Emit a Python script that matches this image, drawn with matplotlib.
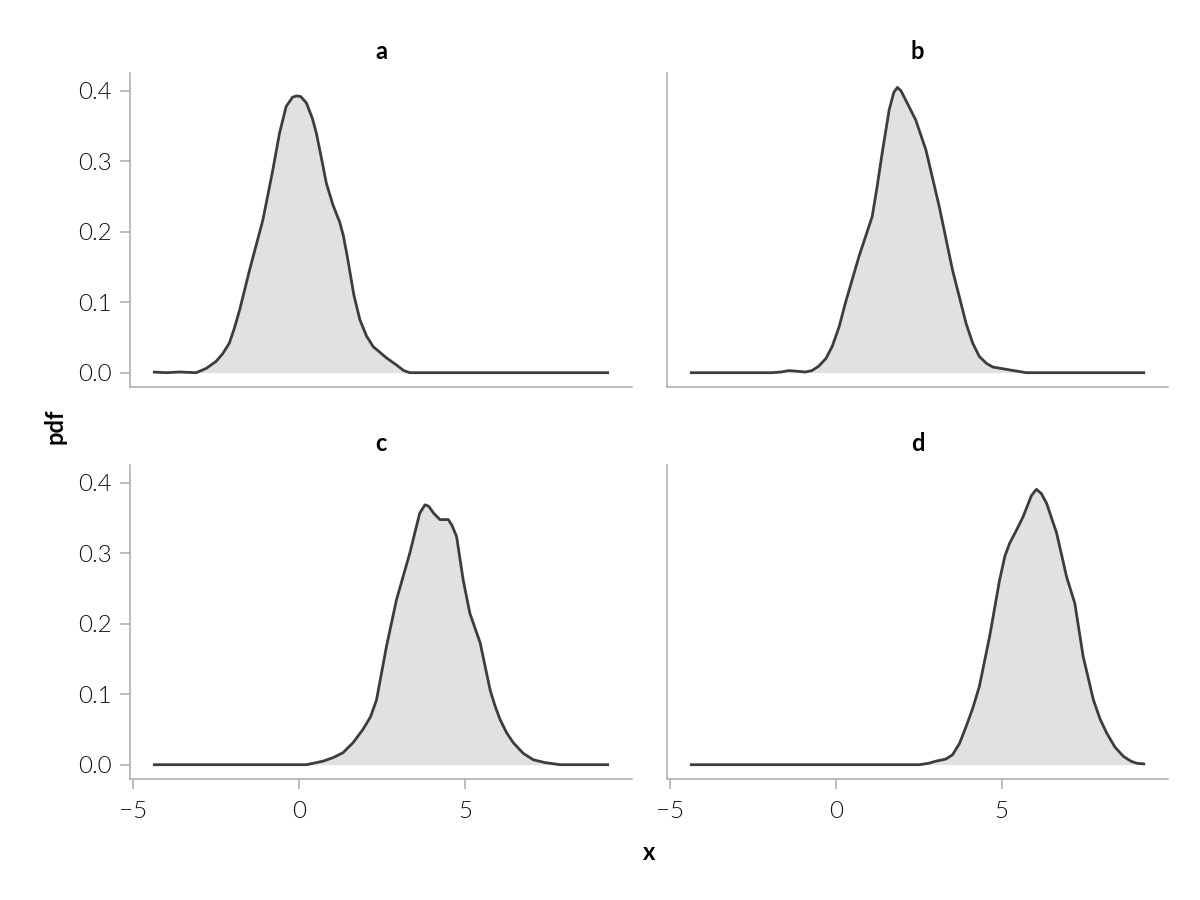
import matplotlib
matplotlib.use("Agg")
import matplotlib.pyplot as plt

# density curves, one (x, pdf) pair of lists per panel
panels = ["a", "b", "c", "d"]

x_a = [-4.40, -4.0, -3.6, -3.1, -2.8, -2.5, -2.3, -2.1, -1.95, -1.79, -1.49, -1.09, -0.79, -0.59, -0.39,
       -0.20, -0.08, 0.05, 0.22, 0.40, 0.52, 0.70, 0.82, 1.02, 1.22, 1.33, 1.45, 1.65, 1.83, 2.03, 2.23,
       2.63, 2.93, 3.15, 3.33, 4.0, 6.0, 9.33]
y_a = [0.001, 0.0, 0.001, 0.0, 0.006, 0.016, 0.027, 0.042, 0.063, 0.089, 0.146, 0.217, 0.288, 0.340, 0.378,
       0.391, 0.393, 0.392, 0.383, 0.361, 0.340, 0.298, 0.269, 0.238, 0.214, 0.195, 0.165, 0.110, 0.075, 0.052, 0.037,
       0.021, 0.011, 0.003, 0.0, 0.0, 0.0, 0.0]

x_b = [-4.40, -3.0, -1.93, -1.65, -1.42, -1.15, -0.92, -0.72, -0.52, -0.30, -0.11, 0.10, 0.29, 0.70,
       1.10, 1.25, 1.40, 1.61, 1.75, 1.86, 1.97, 2.11, 2.41, 2.72, 3.12, 3.52, 3.93, 4.13, 4.33, 4.55,
       4.74, 5.24, 5.75, 7.0, 9.33]
y_b = [0.0, 0.0, 0.0, 0.001, 0.003, 0.002, 0.001, 0.003, 0.009, 0.020, 0.037, 0.065, 0.099, 0.165,
       0.222, 0.265, 0.312, 0.373, 0.398, 0.405, 0.400, 0.387, 0.359, 0.316, 0.236, 0.146, 0.070, 0.042, 0.023, 0.013,
       0.008, 0.004, 0.0, 0.0, 0.0]

x_c = [-4.40, -2.0, 0.22, 0.72, 1.02, 1.32, 1.62, 1.92, 2.15, 2.33, 2.63, 2.93, 3.33, 3.63, 3.79, 3.90,
       4.05, 4.24, 4.49, 4.60, 4.74, 4.94, 5.14, 5.45, 5.75, 5.90, 6.05, 6.25, 6.45, 6.75, 7.05, 7.40,
       7.86, 9.33]
y_c = [0.0, 0.0, 0.0, 0.005, 0.010, 0.017, 0.031, 0.050, 0.068, 0.092, 0.168, 0.234, 0.300, 0.357, 0.369, 0.367,
       0.357, 0.348, 0.348, 0.340, 0.324, 0.262, 0.215, 0.173, 0.106, 0.083, 0.064, 0.045, 0.031, 0.016, 0.007, 0.003,
       0.0, 0.0]

x_d = [-4.40, -1.0, 2.52, 2.80, 3.02, 3.32, 3.52, 3.73, 3.93, 4.13, 4.33, 4.64, 4.94, 5.10, 5.24, 5.45,
       5.65, 5.90, 6.05, 6.20, 6.36, 6.66, 6.96, 7.21, 7.46, 7.77, 7.97, 8.17, 8.42, 8.67, 8.90, 9.08, 9.33]
y_d = [0.0, 0.0, 0.0, 0.002, 0.005, 0.008, 0.014, 0.030, 0.054, 0.080, 0.111, 0.182, 0.262, 0.296, 0.314, 0.333,
       0.352, 0.382, 0.391, 0.385, 0.371, 0.329, 0.267, 0.229, 0.154, 0.092, 0.065, 0.045, 0.025, 0.012, 0.005, 0.002, 0.001]

xs = [x_a, x_b, x_c, x_d]
ys = [y_a, y_b, y_c, y_d]

plt.rcParams["font.family"] = ["Lato", "DejaVu Sans"]
spine_col = "#ababab"

fig = plt.figure(figsize=(12, 9), dpi=100)
boxes = [
    [130 / 1200, 1 - 387 / 900, 502 / 1200, 314 / 900],
    [667 / 1200, 1 - 387 / 900, 501 / 1200, 314 / 900],
    [130 / 1200, 1 - 779 / 900, 502 / 1200, 314 / 900],
    [667 / 1200, 1 - 779 / 900, 501 / 1200, 314 / 900],
]

for i, name in enumerate(panels):
    ax = fig.add_axes(boxes[i])
    ax.fill_between(xs[i], ys[i], 0, color="#e1e1e1", lw=0)
    ax.plot(xs[i], ys[i], color="#3d3d3d", lw=2.0, solid_joinstyle="round", solid_capstyle="butt")
    ax.set_xlim(-5.09, 10.02)
    ax.set_ylim(-0.0203, 0.4255)
    ax.set_xticks([-5, 0, 5])
    ax.set_xticklabels(["\u22125", "0", "5"])
    ax.set_yticks([0.0, 0.1, 0.2, 0.3, 0.4])
    for s in ["top", "right"]:
        ax.spines[s].set_visible(False)
    for s in ["left", "bottom"]:
        ax.spines[s].set_color(spine_col)
        ax.spines[s].set_linewidth(1.1)
    ax.tick_params(direction="out", length=7, width=1.1, color=spine_col,
                   labelsize=17.5, labelcolor="#111111", pad=6)
    ax.tick_params(axis="x", pad=9)
    for lab in ax.get_xticklabels() + ax.get_yticklabels():
        lab.set_fontweight(300)
    if i in (1, 3):
        ax.tick_params(axis="y", left=False, labelleft=False)
    if i in (0, 1):
        ax.tick_params(axis="x", bottom=False, labelbottom=False)
    ax.set_title(name, fontsize=17, fontweight="bold", pad=10)

fig.text(649 / 1200, 1 - 853 / 900, "x", fontsize=17, fontweight="bold", ha="center", va="center")
fig.text(55 / 1200, 1 - 426 / 900, "pdf", fontsize=17, fontweight="bold", ha="center", va="center",
         rotation=90)

fig.savefig("out.png", dpi=100)
